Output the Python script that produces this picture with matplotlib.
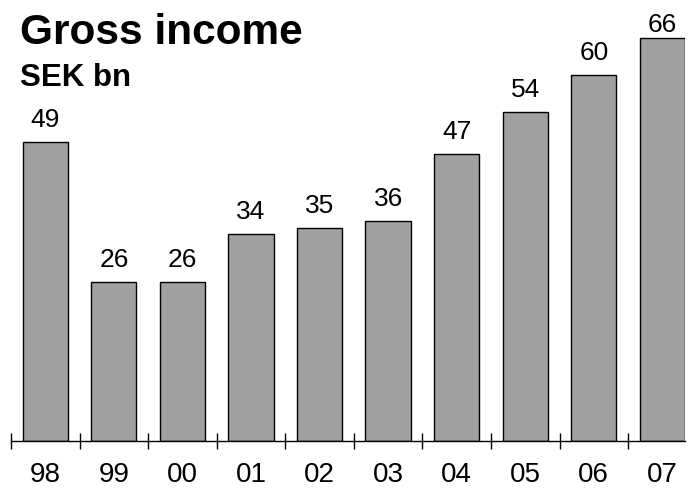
import matplotlib
matplotlib.use("Agg")
import matplotlib.pyplot as plt
import numpy as np

plt.rcParams['font.family'] = ['Liberation Sans', 'DejaVu Sans']

categories = ["98", "99", "00", "01", "02", "03", "04", "05", "06", "07"]
values = [49, 26, 26, 34, 35, 36, 47, 54, 60, 66]
title = "Gross income"
subtitle = "SEK bn"

W, H, DPI = 694, 495, 100
fig = plt.figure(figsize=(W / DPI, H / DPI), dpi=DPI)
base_px = 441
ax_left, ax_right = 11, 685
ax = fig.add_axes([ax_left / W, (H - base_px) / H, (ax_right - ax_left) / W, base_px / H])

x = np.arange(len(categories))
bar_w = 0.66
ymax = 72.3
ax.bar(x, values, width=bar_w, color="#a0a0a0", edgecolor="black", linewidth=1.0, zorder=2)
ax.set_xlim(-0.5, len(categories) - 1 + bar_w / 2)
ax.set_ylim(0, ymax)

px_per_unit = base_px / ymax
for xi, v in zip(x, values):
    y = min(v + 15 / px_per_unit, ymax - 32 / px_per_unit)
    ax.text(xi, y, str(v), ha="center", va="baseline", fontsize=19, color="black")

for s in ["top", "left", "right"]:
    ax.spines[s].set_visible(False)
ax.spines["bottom"].set_linewidth(1.0)
ax.set_yticks([])
ax.set_xticks(x)
ax.set_xticklabels(categories, fontsize=20)
ax.tick_params(axis="x", which="major", length=0, pad=15)
ax.set_xticks(np.arange(-0.5, len(categories) - 1, 1.0), minor=True)
ax.tick_params(axis="x", which="minor", direction="inout", length=12, width=1.0)
ax.patch.set_visible(False)

fig.text(20 / W, (H - 44) / H, title, fontsize=30.5, fontweight="bold", ha="left", va="baseline")
fig.text(20 / W, (H - 86) / H, subtitle, fontsize=22.5, fontweight="bold", ha="left", va="baseline")

fig.savefig("out.png", dpi=DPI)
